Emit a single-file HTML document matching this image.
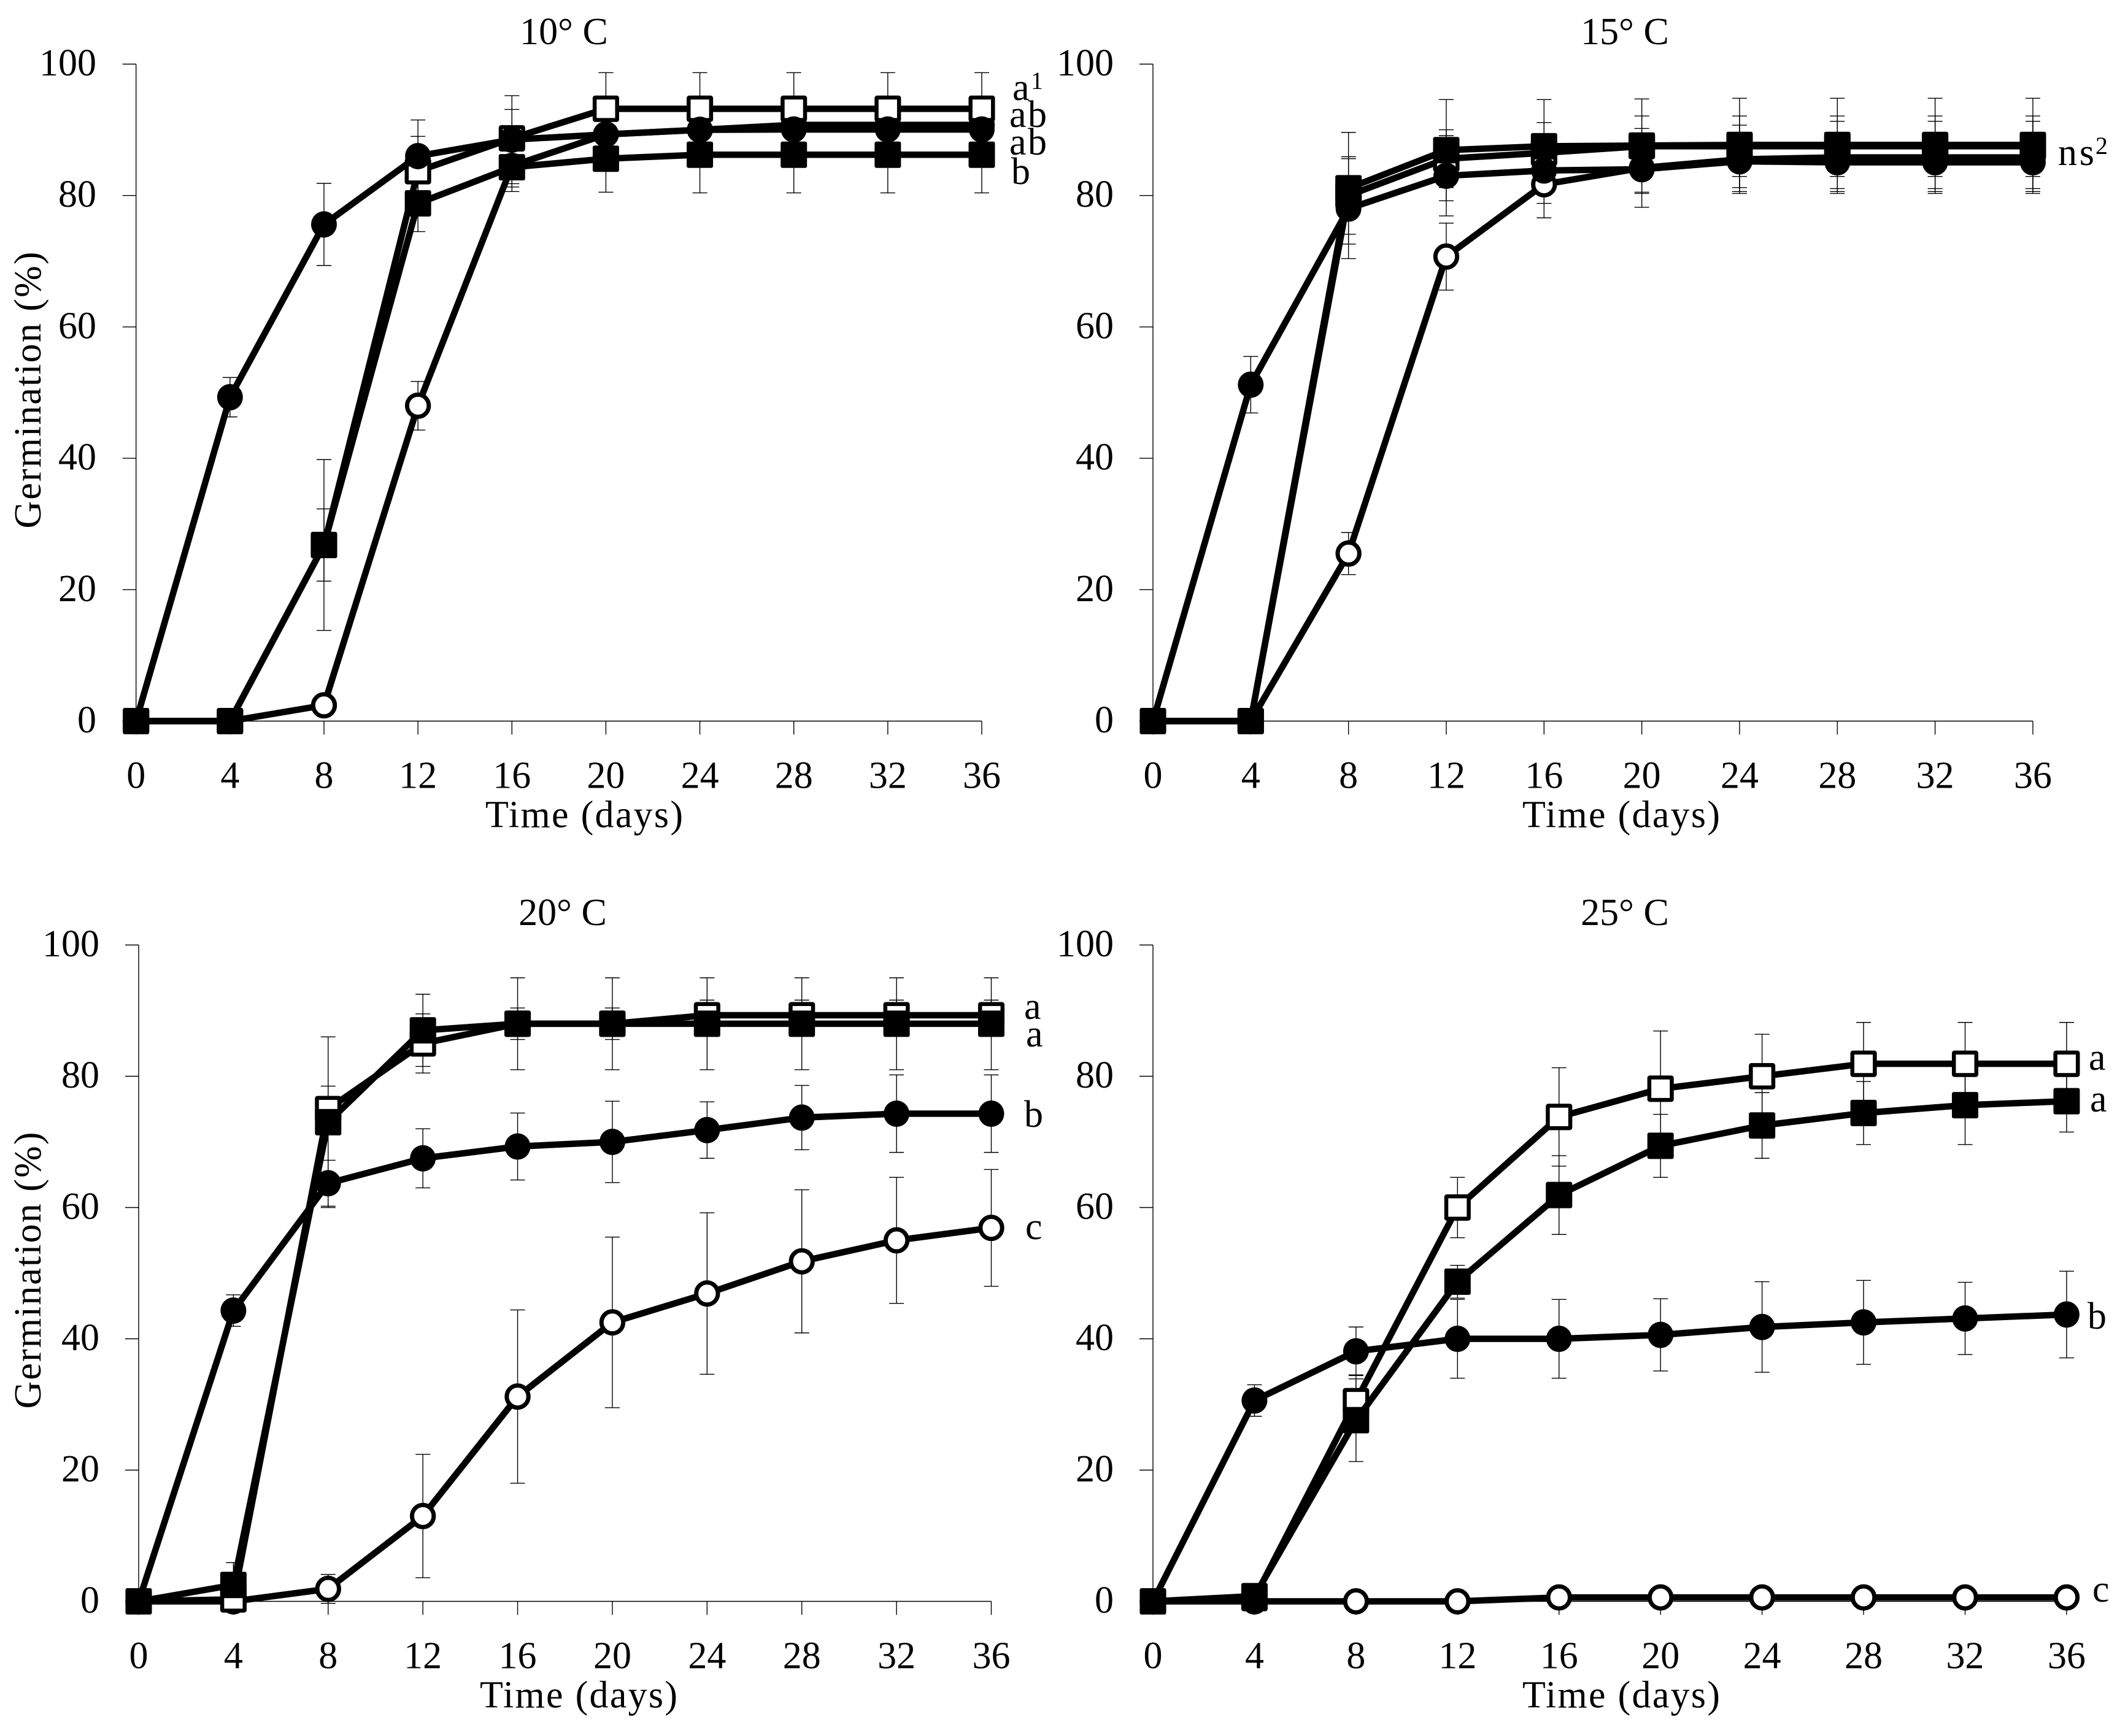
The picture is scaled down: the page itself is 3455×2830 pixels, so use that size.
<!DOCTYPE html>
<html lang="en">
<head>
<meta charset="utf-8">
<title>Germination over time at four temperatures</title>
<style>
html,body{margin:0;padding:0;background:#fff;}
svg{display:block;}
text{font-family:"Liberation Serif",serif;fill:#000;font-size:62px;}
</style>
</head>
<body>
<svg id="chart" xmlns="http://www.w3.org/2000/svg" width="3455" height="2830" viewBox="0 0 3455 2830">
<rect width="3455" height="2830" fill="#fff"/>
</svg>
<script>
// Shared axis data
const days = [0,4,8,12,16,20,24,28,32,36];
const yTicks = [0,20,40,60,80,100];

// 10 C
const t10OpenCircle = [0,0,2.4,48,84.5,89.3,90,90.75,90.75,90.75];
const t10OpenCircleErr = [0,0,1.5,3.7,3.2,4,4,4,4,4];
const t10OpenSquare = [0,0,26.8,83.7,88.7,93.2,93.2,93.2,93.2,93.2];
const t10OpenSquareErr = [0,0,5.5,5.3,4.4,5.5,5.5,5.5,5.5,5.5];
const t10FilledCircle = [0,49.3,75.6,86,88.5,89.3,90,90.05,90.05,90.05];
const t10FilledCircleErr = [0,3,6.25,5.5,6.7,5,5,5,5,5];
const t10FilledSquare = [0,0,26.8,78.8,84.3,85.6,86.2,86.2,86.2,86.2];
const t10FilledSquareErr = [0,0,13,4.3,3.7,5.1,5.8,5.8,5.8,5.8];

// 15 C
const t15OpenCircle = [0,0,25.5,70.7,81.7,84.2,85.5,85.8,85.8,85.8];
const t15OpenCircleErr = [0,0,3.2,5.1,5.1,6,5.2,5.5,5.5,5.5];
const t15OpenSquare = [0,0,80,85.6,86.5,87.5,87.5,87.5,87.5,87.5];
const t15OpenSquareErr = [0,0,5.9,4.4,4.6,4.6,4.6,4.6,4.6,4.6];
const t15FilledCircle = [0,51.2,78,83,83.8,84,85.2,85.05,85.05,85.05];
const t15FilledCircleErr = [0,4.3,7.6,6.1,5,3.7,4,4,4,4];
const t15FilledSquare = [0,0,81.1,86.9,87.5,87.6,87.7,87.7,87.7,87.7];
const t15FilledSquareErr = [0,0,8.5,7.7,7.1,7.1,7.1,7.1,7.1,7.1];

// 20 C
const t20OpenCircle = [0,0,1.9,13,31.2,42.5,46.9,51.8,55,56.9];
const t20OpenCircleErr = [0,0,2.2,9.4,13.2,13,12.3,10.9,9.6,8.9];
const t20OpenSquare = [0,0.3,75,85,88,88,89.3,89.3,89.3,89.3];
const t20OpenSquareErr = [0,0,3.5,4.5,2.4,2.4,2.3,2.3,2.3,2.3];
const t20FilledCircle = [0,44.3,63.7,67.5,69.3,70,71.8,73.7,74.3,74.3];
const t20FilledCircleErr = [0,2.4,3.5,4.5,5.1,6.2,4.3,4.9,5.9,5.9];
const t20FilledSquare = [0,2.5,73,87,88,88,88,88,88,88];
const t20FilledSquareErr = [0,3.4,13,5.5,7,7,7,7,7,7];

// 25 C
const t25OpenCircle = [0,0,0,0,0.6,0.6,0.6,0.6,0.6,0.6];
const t25OpenCircleErr = [0,0,0,0,0,0,0,0,0,0];
const t25OpenSquare = [0,0.5,30.5,60,73.8,78.1,80,81.9,81.9,81.9];
const t25OpenSquareErr = [0,0,4,4.6,7.5,8.8,6.4,6.3,6.3,6.3];
const t25FilledCircle = [0,30.6,38.1,40,40,40.6,41.8,42.5,43.1,43.7];
const t25FilledCircleErr = [0,2.4,3.7,6,6,5.5,6.9,6.4,5.5,6.6];
const t25FilledSquare = [0,0.8,27.6,48.7,61.9,69.4,72.5,74.4,75.6,76.2];
const t25FilledSquareErr = [0,0,6.3,2.5,6,4.8,5,4.8,6,4.7];

const NS = 'http://www.w3.org/2000/svg';
const root = document.getElementById('chart');

function make(parent, tag, attrs) {
  const el = document.createElementNS(NS, tag);
  for (const k in attrs) el.setAttribute(k, attrs[k]);
  parent.appendChild(el);
  return el;
}

function drawMarker(g, shape, cx, cy) {
  let m;
  if (shape === 'filled-square') {
    m = make(g, 'rect', {x: cx - 21.5, y: cy - 21.5, width: 43, height: 43, rx: 3, fill: '#000'});
  } else if (shape === 'open-square') {
    m = make(g, 'rect', {x: cx - 18.3, y: cy - 18.3, width: 36.6, height: 36.6, rx: 1, fill: '#fff', stroke: '#000', 'stroke-width': 6.5, 'stroke-linejoin': 'round'});
  } else if (shape === 'filled-circle') {
    m = make(g, 'ellipse', {cx: cx, cy: cy, rx: 21, ry: 21.5, fill: '#000'});
  } else {
    m = make(g, 'ellipse', {cx: cx, cy: cy, rx: 17.7, ry: 18, fill: '#fff', stroke: '#000', 'stroke-width': 7});
  }
  
  
}

function label(g, x, y, str, anchor, name, extra) {
  const t = make(g, 'text', Object.assign({x: x, y: y, 'text-anchor': anchor || 'start'}, extra || {}));
  t.textContent = str;
  
  
  return t;
}

function drawPanel(p) {
  const g = make(root, 'g', {});
  
  
  const xMax = days[days.length - 1];
  const xScale = d => p.x0 + (p.x36 - p.x0) * d / xMax;
  const yScale = v => p.y0 + (p.y100 - p.y0) * v / 100;

  label(g, p.titleX, p.titleY, p.title, 'middle', 'panel-title');

  const axes = make(g, 'g', {stroke: '#000', 'stroke-width': 1.4, fill: 'none'});
  
  
  const yAxis = make(axes, 'line', {x1: p.x0, x2: p.x0, y1: yScale(100), y2: yScale(0) + 22});
  
  
  const xAxis = make(axes, 'line', {x1: p.x0 - 22, x2: xScale(xMax), y1: yScale(0), y2: yScale(0)});
  
  

  yTicks.forEach(v => {
    const tick = make(axes, 'line', {x1: p.x0 - 22, x2: p.x0, y1: yScale(v), y2: yScale(v)});
    
    
    label(g, p.yLabelRight, yScale(v) + 18.5, String(v), 'end', 'y-tick-label');
  });
  days.forEach(d => {
    const tick = make(axes, 'line', {x1: xScale(d), x2: xScale(d), y1: yScale(0), y2: yScale(0) + 22});
    
    
    label(g, xScale(d), yScale(0) + 109, String(d), 'middle', 'x-tick-label');
  });

  label(g, p.xTitleX, yScale(0) + 173, 'Time (days)', 'middle', 'x-axis-title', {textLength: 322, lengthAdjust: 'spacing'});
  if (p.yTitleY) {
    label(g, 0, 0, 'Germination (%)', 'middle', 'y-axis-title', {
      transform: 'translate(66,' + p.yTitleY + ') rotate(-90)', textLength: 451, lengthAdjust: 'spacing'
    });
  }

  // error bars behind all series
  const bars = make(g, 'g', {stroke: '#000', 'stroke-width': 1.4, fill: 'none'});
  
  
  p.series.forEach(s => {
    s.values.forEach((v, i) => {
      const e = s.err[i];
      if (!e) return;
      const x = xScale(days[i]);
      const top = yScale(v + e), bot = yScale(v - e);
      const bar = make(bars, 'path', {d: 'M' + (x - 12) + ' ' + top + 'H' + (x + 12) + 'M' + x + ' ' + top + 'V' + bot + 'M' + (x - 12) + ' ' + bot + 'H' + (x + 12)});
      
      
    });
  });

  p.series.forEach(s => {
    const sg = make(g, 'g', {});
    
    
    const pts = s.values.map((v, i) => xScale(days[i]) + ',' + yScale(v)).join(' ');
    const line = make(sg, 'polyline', {points: pts, fill: 'none', stroke: '#000', 'stroke-width': 10.5, 'stroke-linejoin': 'round'});
    
    
    s.values.forEach((v, i) => drawMarker(sg, s.shape, xScale(days[i]), yScale(v)));
  });

  p.notes.forEach(n => {
    label(g, n.x, n.y, n.text, 'start', 'significance-letter', n.len ? {textLength: n.len, lengthAdjust: 'spacing'} : {});
    if (n.sup) {
      const sup = label(g, n.supX, n.supY, n.sup, 'start', 'significance-superscript');
      sup.style.fontSize = '40px';
    }
  });
}

function seriesSet(oc, oce, os, ose, fc, fce, fs, fse) {
  return [
    {shape: 'open-circle', values: oc, err: oce},
    {shape: 'open-square', values: os, err: ose},
    {shape: 'filled-circle', values: fc, err: fce},
    {shape: 'filled-square', values: fs, err: fse}
  ];
}

drawPanel({
  key: '10c', title: '10\u00B0 C', titleX: 919, titleY: 72,
  x0: 221.7, x36: 1600, y0: 1175.5, y100: 104.5, yLabelRight: 157, xTitleX: 952, yTitleY: 636,
  series: seriesSet(t10OpenCircle, t10OpenCircleErr, t10OpenSquare, t10OpenSquareErr, t10FilledCircle, t10FilledCircleErr, t10FilledSquare, t10FilledSquareErr),
  notes: [
    {text: 'a', x: 1650, y: 163, sup: '1', supX: 1680, supY: 145},
    {text: 'ab', x: 1645, y: 207, len: 61},
    {text: 'ab', x: 1645, y: 252, len: 61},
    {text: 'b', x: 1648, y: 300}
  ]
});

drawPanel({
  key: '15c', title: '15\u00B0 C', titleX: 2648, titleY: 72,
  x0: 1879, x36: 3313, y0: 1175.5, y100: 104.5, yLabelRight: 1815, xTitleX: 2642, yTitleY: 0,
  series: seriesSet(t15OpenCircle, t15OpenCircleErr, t15OpenSquare, t15OpenSquareErr, t15FilledCircle, t15FilledCircleErr, t15FilledSquare, t15FilledSquareErr),
  notes: [
    {text: 'ns', x: 3354, y: 269, len: 59, sup: '2', supX: 3415, supY: 251}
  ]
});

drawPanel({
  key: '20c', title: '20\u00B0 C', titleX: 917, titleY: 1508,
  x0: 226, x36: 1615.5, y0: 2610.5, y100: 1540.5, yLabelRight: 162, xTitleX: 943, yTitleY: 2071,
  series: seriesSet(t20OpenCircle, t20OpenCircleErr, t20OpenSquare, t20OpenSquareErr, t20FilledCircle, t20FilledCircleErr, t20FilledSquare, t20FilledSquareErr),
  notes: [
    {text: 'a', x: 1669, y: 1661},
    {text: 'a', x: 1672, y: 1706},
    {text: 'b', x: 1669, y: 1837},
    {text: 'c', x: 1671, y: 2020}
  ]
});

drawPanel({
  key: '25c', title: '25\u00B0 C', titleX: 2648, titleY: 1508,
  x0: 1879, x36: 3368, y0: 2610.5, y100: 1540.5, yLabelRight: 1815, xTitleX: 2642, yTitleY: 0,
  series: seriesSet(t25OpenCircle, t25OpenCircleErr, t25OpenSquare, t25OpenSquareErr, t25FilledCircle, t25FilledCircleErr, t25FilledSquare, t25FilledSquareErr),
  notes: [
    {text: 'a', x: 3404, y: 1744},
    {text: 'a', x: 3406, y: 1812},
    {text: 'b', x: 3402, y: 2166},
    {text: 'c', x: 3410, y: 2611}
  ]
});
</script>
</body>
</html>
